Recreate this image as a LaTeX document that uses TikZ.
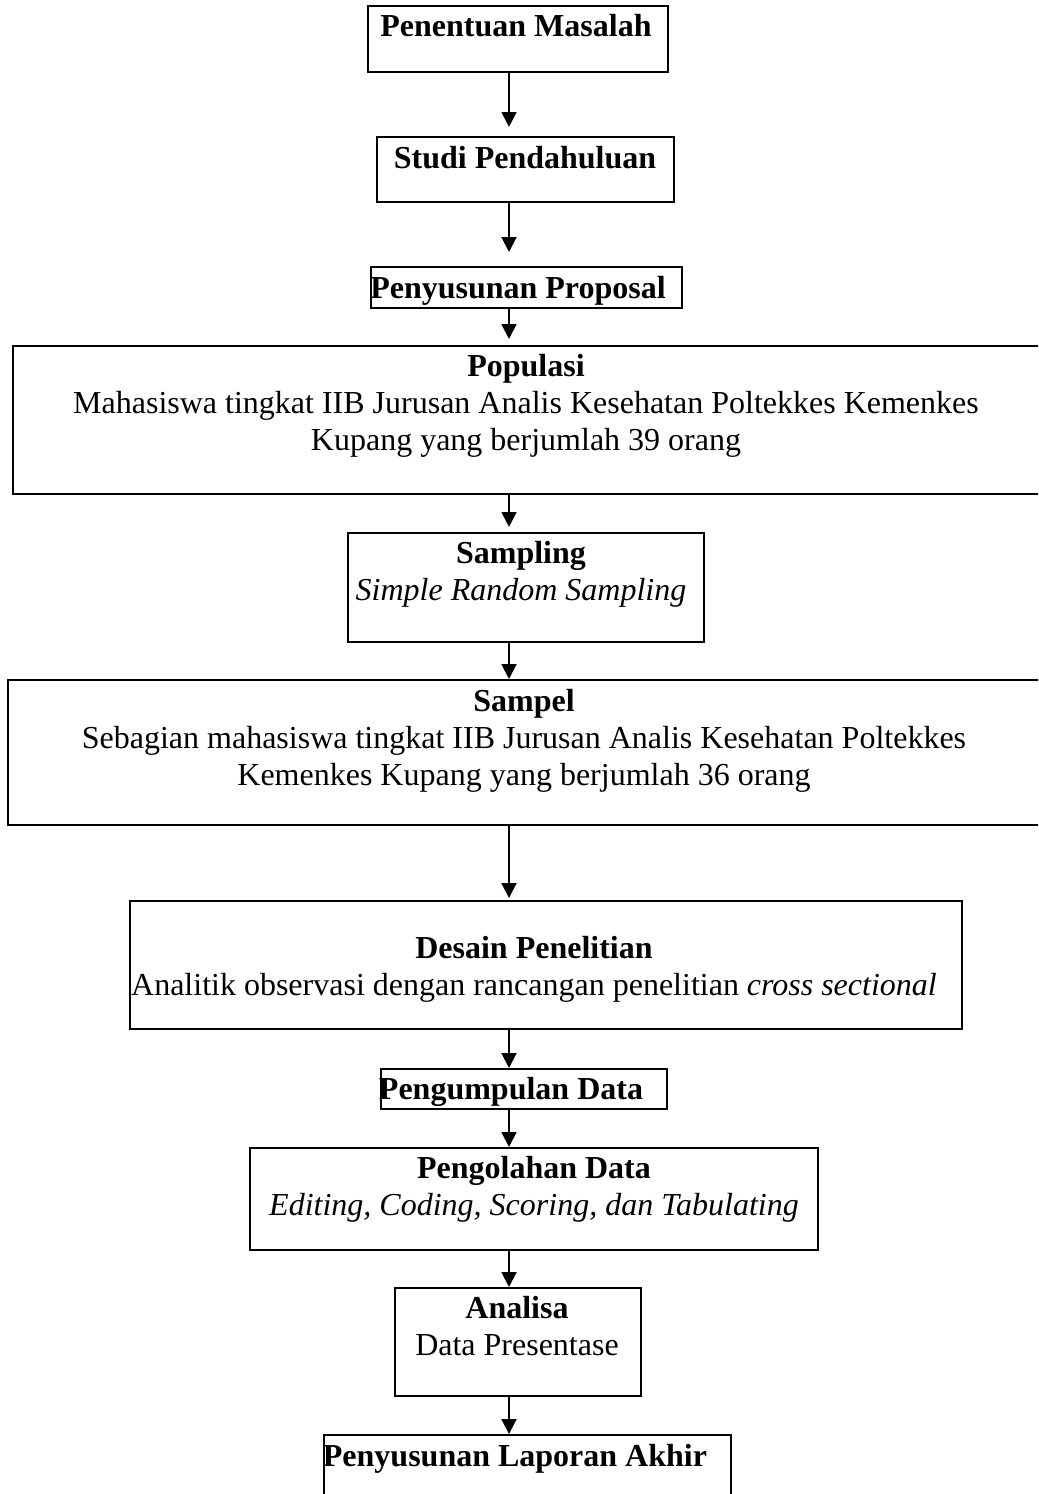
\documentclass[tikz,border=0pt]{standalone}
\usepackage{fontspec}
\setmainfont{Liberation Serif}
\usetikzlibrary{arrows.meta}
\newcommand{\pxl}{0.375pt}
\begin{document}
\begin{tikzpicture}[x=0.375pt, y=-0.375pt,
	kotak/.style={draw, line width=0.75pt, inner sep=0pt},
	isi/.style={anchor=north, inner sep=0pt, align=center, font=\fontsize{12pt}{13.9pt}\selectfont},
	panah/.style={-{Triangle[length=5.6pt, width=5.6pt]}, line width=0.75pt}]
	\clip (0,0) rectangle (1038,1494);
	\coordinate (sumbu) at (509,0);
	\node[kotak, minimum width=300*\pxl, minimum height=66*\pxl] (masalah) at (518,39) {};
	\node[kotak, minimum width=297*\pxl, minimum height=65*\pxl] (studi) at (525.5,169.5) {};
	\node[kotak, minimum width=311*\pxl, minimum height=41*\pxl] (proposal) at (526.5,287.5) {};
	\node[kotak, minimum width=1032*\pxl, minimum height=148*\pxl] (populasi) at (529,420) {};
	\node[kotak, minimum width=356*\pxl, minimum height=109*\pxl] (sampling) at (526,587.5) {};
	\node[kotak, minimum width=1037*\pxl, minimum height=145*\pxl] (sampel) at (526.5,752.5) {};
	\node[kotak, minimum width=832*\pxl, minimum height=128*\pxl] (desain) at (546,965) {};
	\node[kotak, minimum width=286*\pxl, minimum height=40*\pxl] (kumpul) at (524,1089) {};
	\node[kotak, minimum width=568*\pxl, minimum height=102*\pxl] (olah) at (534,1199) {};
	\node[kotak, minimum width=246*\pxl, minimum height=108*\pxl] (analisa) at (518,1342) {};
	\node[kotak, minimum width=407*\pxl, minimum height=66*\pxl] (laporan) at (527.5,1468) {};
	\node[isi] (masalah-t) at (516,13.3) {\textbf{Penentuan Masalah}};
	\node[isi] (studi-t) at (525,145.3) {\textbf{Studi Pendahuluan}};
	\node[isi] (proposal-t) at (518,275.3) {\textbf{Penyusunan Proposal}};
	\node[isi] (populasi-t) at (526,353.3) {\textbf{Populasi}\\ Mahasiswa tingkat IIB Jurusan Analis Kesehatan Poltekkes Kemenkes\\ Kupang yang berjumlah 39 orang};
	\node[isi] (sampling-t) at (521,540.3) {\textbf{Sampling}\\ \textit{Simple Random Sampling}};
	\node[isi] (sampel-t) at (524,688.3) {\textbf{Sampel}\\ Sebagian mahasiswa tingkat IIB Jurusan Analis Kesehatan Poltekkes\\ Kemenkes Kupang yang berjumlah 36 orang};
	\node[isi] (desain-t) at (534,935.3) {\textbf{Desain Penelitian}\\ Analitik observasi dengan rancangan penelitian \textit{cross sectional}};
	\node[isi] (kumpul-t) at (511,1076.3) {\textbf{Pengumpulan Data}};
	\node[isi] (olah-t) at (534,1155.3) {\textbf{Pengolahan Data}\\ \textit{Editing, Coding, Scoring, dan Tabulating}};
	\node[isi] (analisa-t) at (517,1295.3) {\textbf{Analisa}\\ Data Presentase};
	\node[isi] (laporan-t) at (515,1443.3) {\textbf{Penyusunan Laporan Akhir}};
	\foreach \a/\b/\s in {masalah/studi/3.4pt, studi/proposal/5.25pt, proposal/populasi/2.25pt, populasi/sampling/1.9pt, sampling/sampel/0pt, sampel/desain/0.75pt, desain/kumpul/0pt, kumpul/olah/0pt, olah/analisa/0pt, analisa/laporan/0pt}
		\draw[panah, shorten >=\s] (\a.south -| sumbu) -- (\b.north -| sumbu);
\end{tikzpicture}
\end{document}
